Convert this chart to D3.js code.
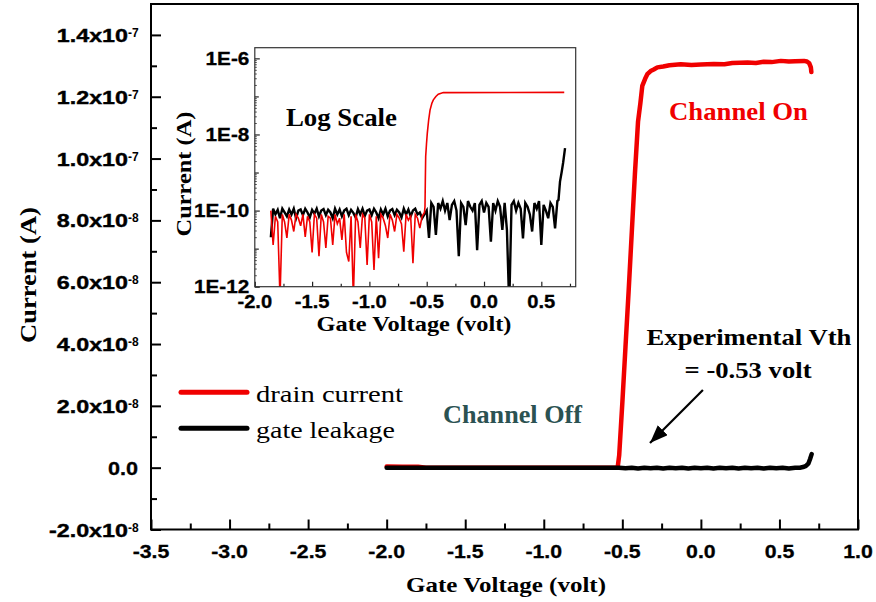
<!DOCTYPE html>
<html><head><meta charset="utf-8">
<script src="https://cdn.jsdelivr.net/npm/d3@7"></script>
<style>body{margin:0;background:#fff}</style>
</head><body><svg id="c" width="876" height="602"></svg>
<script>
// ---------------- data ----------------
const mainDrainV = [-2.0,-1.9,-1.8,-1.75,-1.6,-0.53,-0.52,-0.50,-0.48,-0.46,-0.44,-0.42,-0.40,-0.385,-0.373,-0.355,-0.341,-0.32,-0.30,-0.277,-0.24,-0.20,-0.128,-0.06,0.0,0.082,0.15,0.2,0.297,0.35,0.4,0.45,0.509,0.56,0.6,0.656,0.675,0.69,0.70,0.703];
const mainDrainI = [4e-10,3e-10,3e-10,0,0,0,4e-9,2.1e-8,3.9e-8,5.7e-8,7.6e-8,9.5e-8,1.12e-7,1.18e-7,1.235e-7,1.258e-7,1.273e-7,1.283e-7,1.288e-7,1.295e-7,1.298e-7,1.302e-7,1.305e-7,1.303e-7,1.304e-7,1.306e-7,1.305e-7,1.309e-7,1.311e-7,1.309e-7,1.313e-7,1.312e-7,1.316e-7,1.314e-7,1.315e-7,1.316e-7,1.314e-7,1.308e-7,1.295e-7,1.28e-7];
const mainGateV = [-2.0,-0.52,-0.48,-0.44,-0.40,-0.36,-0.32,-0.28,-0.24,-0.20,-0.16,-0.12,-0.08,-0.04,0.00,0.04,0.08,0.12,0.16,0.20,0.24,0.28,0.32,0.36,0.40,0.44,0.48,0.52,0.56,0.60,0.63,0.65,0.67,0.685,0.695,0.705];
const mainGateI = [0,0,-2e-10,0,-2.5e-10,0,-2e-10,0,-2.5e-10,0,-2e-10,0,-2.5e-10,0,-2e-10,0,-2.5e-10,0,-2e-10,0,-2.5e-10,0,-2e-10,0,-2.5e-10,0,-2e-10,0,-2.5e-10,0,0,2e-10,6e-10,1.4e-9,2.8e-9,4.4e-9];

const xTickValues = [-3.5,-3.0,-2.5,-2.0,-1.5,-1.0,-0.5,0.0,0.5,1.0];
const xTickLabels = ["-3.5","-3.0","-2.5","-2.0","-1.5","-1.0","-0.5","0.0","0.5","1.0"];
const xMinorTicks = [-3.25,-2.75,-2.25,-1.75,-1.25,-0.75,-0.25,0.25,0.75];
const yTickValues = [-2e-8,0,2e-8,4e-8,6e-8,8e-8,1e-7,1.2e-7,1.4e-7];
const yTickMantissa = ["-2.0x10","0.0","2.0x10","4.0x10","6.0x10","8.0x10","1.0x10","1.2x10","1.4x10"];
const yTickExponent = ["-8","","-8","-8","-8","-8","-7","-7","-7"];
const yMinorTicks = [-1e-8,1e-8,3e-8,5e-8,7e-8,9e-8,1.1e-7,1.3e-7];

// inset (log scale), noise sampled on a 0.02 V grid starting at -1.86 V
const insetGridStart = -1.86, insetGridStep = 0.02;
const insetDrainNoiseLog = [-10.00,-10.90,-10.15,-10.30,-12.30,-10.10,-10.30,-10.72,-10.10,-10.25,
 -10.55,-10.10,-10.20,-10.40,-10.10,-10.69,-10.15,-10.30,-11.10,-10.10,
 -10.20,-11.20,-10.10,-10.30,-10.98,-10.15,-10.20,-10.90,-10.10,-10.35,
 -10.20,-10.77,-10.10,-11.10,-11.34,-10.15,-12.30,-10.10,-10.30,-10.98,
 -10.10,-10.20,-11.43,-10.10,-10.30,-11.56,-10.15,-11.25,-10.10,-10.20,
 -10.40,-10.72,-10.10,-10.25,-10.55,-10.10,-10.20,-10.35,-11.08,-10.10,
 -10.25,-10.15,-11.38,-10.10,-10.20,-10.46,-10.15,-10.05];
const insetDrainTailV = [-0.515,-0.512,-0.509,-0.502,-0.495,-0.483,-0.471,-0.455,-0.442,-0.42,-0.399,-0.355,0.70];
const insetDrainTailLog = [-9.9,-9.2,-8.58,-8.25,-7.97,-7.62,-7.36,-7.18,-7.09,-7.0,-6.94,-6.90,-6.895];
const insetGateNoiseLog = [-10.70,-9.95,-10.10,-9.98,-10.20,-9.95,-10.05,-10.15,-9.97,-10.10,
 -9.95,-10.20,-10.00,-9.97,-10.12,-9.95,-10.05,-10.18,-9.98,-10.08,
 -9.95,-10.15,-10.00,-9.96,-10.12,-9.98,-10.05,-10.20,-9.95,-10.10,
 -9.97,-10.15,-10.00,-9.95,-10.12,-9.98,-10.06,-10.18,-9.96,-10.10,
 -9.95,-10.14,-10.00,-9.97,-10.12,-9.95,-10.05,-10.20,-9.97,-10.10,
 -9.95,-10.15,-10.00,-9.96,-10.12,-9.98,-10.05,-10.18,-9.95,-10.10,
 -9.97,-10.15,-10.00,-9.95,-10.10,-10.05,-10.20,
 -10.10,-10.00,-10.72,-9.80,-9.90,-10.64,-9.80,-9.95,-9.75,-10.00,
 -9.80,-10.25,-9.85,-9.75,-10.00,-11.20,-9.80,-9.90,-10.38,-9.75,
 -9.90,-10.00,-9.80,-11.04,-9.85,-9.75,-10.05,-9.80,-9.90,-10.82,
 -9.80,-10.00,-9.75,-9.90,-10.51,-9.80,-10.51,-12.50,-9.85,-9.75,
 -10.00,-9.80,-9.95,-10.73,-9.80,-9.90,-10.10,-10.55,-9.80,-9.95,
 -9.75,-10.90,-9.85,-10.00,-10.20,-9.80,-9.90,-10.47,-9.75];
const insetGateTailV = [0.65,0.663,0.678,0.69,0.707];
const insetGateTailLog = [-9.72,-9.24,-8.98,-8.75,-8.36];

const insetXTickValues = [-2.0,-1.5,-1.0,-0.5,0.0,0.5];
const insetXTickLabels = ["-2.0","-1.5","-1.0","-0.5","0.0","0.5"];
const insetXMinor = [-1.75,-1.25,-0.75,-0.25,0.25,0.75];
const insetYTickValues = [1e-12,1e-10,1e-8,1e-6];
const insetYTickLabels = ["1E-12","1E-10","1E-8","1E-6"];
const insetYDecades = [1e-11,1e-9,1e-7];

const seriesNames = ["drain current","gate leakage"];
const seriesColors = ["#f00000","#000000"];

// ---------------- drawing ----------------
const SANS = "'Liberation Sans', Arial, sans-serif";
const SERIF = "'Liberation Serif', 'Times New Roman', serif";
const svg = d3.select("#c");
svg.append("rect").attr("width",876).attr("height",602).attr("fill","#fff");

function label(parent, str, px, py, o) {
  const g = parent.append("g");
  const t = g.append("text").text(str)
    .attr("font-family", o.serif ? SERIF : SANS)
    .attr("font-weight", o.weight || "bold")
    .attr("font-size", o.size)
    .attr("text-anchor", o.anchor || "start")
    .attr("fill", o.fill || "#000");
  if (o.stroke) t.attr("stroke", o.fill || "#000").attr("stroke-width", o.stroke);
  let k = o.k || 1;
  if (o.width) k = o.width / t.node().getComputedTextLength();
  g.attr("transform", `translate(${px},${py}) rotate(${o.rot||0}) scale(${k},1)`);
  return g;
}

const x = d3.scaleLinear().domain([-3.5, 1.0]).range([151, 858]);
const y = d3.scaleLinear().domain([-2e-8, 1.5e-7]).range([529.5, 4]);

// main axes ticks (inward)
function tickAxis(axis, vals, size, tr) {
  const g = svg.append("g").attr("transform", tr)
    .call(axis.tickValues(vals).tickSize(-size).tickSizeOuter(0).tickFormat(""));
  g.select(".domain").remove();
  g.selectAll("line").attr("stroke","#000").attr("stroke-width",2);
  return g;
}
tickAxis(d3.axisBottom(x), xTickValues, 10, `translate(0,${y.range()[0]})`);
tickAxis(d3.axisBottom(x), xMinorTicks, 6, `translate(0,${y.range()[0]})`);
tickAxis(d3.axisLeft(y), yTickValues, 10, `translate(${x.range()[0]},0)`);
tickAxis(d3.axisLeft(y), yMinorTicks, 6, `translate(${x.range()[0]},0)`);

// frame
svg.append("rect")
  .attr("x", x.range()[0]).attr("y", y.range()[1])
  .attr("width", x.range()[1]-x.range()[0]).attr("height", y.range()[0]-y.range()[1])
  .attr("fill","none").attr("stroke","#000").attr("stroke-width",2);

// tick labels
xTickValues.forEach((v,i) => label(svg, xTickLabels[i], x(v), 558, {size:18.5, anchor:"middle", k:1.15, stroke:0.3}));
yTickValues.forEach((v,i) => {
  const yy = y(v);
  if (yTickExponent[i]) {
    label(svg, yTickMantissa[i], x.range()[0]-23, yy+7, {size:18.5, anchor:"end", k:1.26, stroke:0.4});
    label(svg, yTickExponent[i], x.range()[0]-23, yy+2, {size:12, anchor:"start", k:1.0});
  } else {
    label(svg, yTickMantissa[i], x.range()[0]-13, yy+7, {size:18.5, anchor:"end", k:1.17, stroke:0.3});
  }
});

// axis titles
label(svg, "Gate Voltage (volt)", 506, 592, {size:22, serif:true, anchor:"middle", width:200});
label(svg, "Current (A)", 36, 275, {size:23, serif:true, anchor:"middle", width:136, rot:-90});

// main lines
const lineMain = d3.line().x(d => x(d[0])).y(d => y(d[1])).curve(d3.curveLinear);
const drainMain = mainDrainV.map((v,i) => [v, mainDrainI[i]]);
const gateMain = mainGateV.map((v,i) => [v, mainGateI[i]]);
svg.append("path").attr("d", lineMain(drainMain)).attr("fill","none")
  .attr("stroke", seriesColors[0]).attr("stroke-width",4.5)
  .attr("stroke-linejoin","round").attr("stroke-linecap","round");
svg.append("path").attr("d", lineMain(gateMain)).attr("fill","none")
  .attr("stroke", seriesColors[1]).attr("stroke-width",4.5)
  .attr("stroke-linejoin","round").attr("stroke-linecap","round");

// ---------------- inset ----------------
const ix = d3.scaleLinear().domain([-2.0, 0.8]).range([254.8, 575.7]);
const iy = d3.scaleLog().domain([1e-12, Math.pow(10,-5.72)]).range([286.7, 47.7]);
const inset = svg.append("g");
inset.append("rect").attr("x", ix.range()[0]).attr("y", iy.range()[1])
  .attr("width", ix.range()[1]-ix.range()[0]).attr("height", iy.range()[0]-iy.range()[1])
  .attr("fill","#fff");
svg.append("clipPath").attr("id","insetClip").append("rect")
  .attr("x", ix.range()[0]).attr("y", iy.range()[1])
  .attr("width", ix.range()[1]-ix.range()[0]).attr("height", iy.range()[0]-iy.range()[1]);

const gateInset = insetGateNoiseLog.map((l,i) => [insetGridStart + i*insetGridStep, Math.pow(10,l)])
  .concat(insetGateTailV.map((v,i) => [v, Math.pow(10, insetGateTailLog[i])]));
const drainInset = insetDrainNoiseLog.map((l,i) => [insetGridStart + i*insetGridStep, Math.pow(10,l)])
  .concat(insetDrainTailV.map((v,i) => [v, Math.pow(10, insetDrainTailLog[i])]));
const lineInset = d3.line().x(d => ix(d[0])).y(d => iy(d[1]));
const plotI = inset.append("g").attr("clip-path","url(#insetClip)");
plotI.append("path").attr("d", lineInset(gateInset)).attr("fill","none")
  .attr("stroke", seriesColors[1]).attr("stroke-width",2.4).attr("stroke-linejoin","miter");
plotI.append("path").attr("d", lineInset(drainInset)).attr("fill","none")
  .attr("stroke", seriesColors[0]).attr("stroke-width",1.6);

// inset ticks
function insetTicks(axis, vals, size, tr, w) {
  const g = inset.append("g").attr("transform", tr)
    .call(axis.tickValues(vals).tickSize(-size).tickSizeOuter(0).tickFormat(""));
  g.select(".domain").remove();
  g.selectAll("line").attr("stroke","#222").attr("stroke-width",w);
}
const subTicks = [];
[-12,-11,-10,-9,-8,-7,-6].forEach(d => [2,3,4,5,6,7,8,9].forEach(m => { const v = m*Math.pow(10,d); if (v < iy.domain()[1]) subTicks.push(v); }));
insetTicks(d3.axisBottom(ix), insetXTickValues, 5, `translate(0,${iy.range()[0]})`, 1.2);
insetTicks(d3.axisBottom(ix), insetXMinor.filter(v => v < 0.8), 3, `translate(0,${iy.range()[0]})`, 1.2);
insetTicks(d3.axisLeft(iy), insetYTickValues, 5, `translate(${ix.range()[0]},0)`, 1.2);
insetTicks(d3.axisLeft(iy), insetYDecades, 4, `translate(${ix.range()[0]},0)`, 1.2);
insetTicks(d3.axisLeft(iy), subTicks, 2, `translate(${ix.range()[0]},0)`, 0.8);

inset.append("rect").attr("x", ix.range()[0]).attr("y", iy.range()[1])
  .attr("width", ix.range()[1]-ix.range()[0]).attr("height", iy.range()[0]-iy.range()[1])
  .attr("fill","none").attr("stroke","#333").attr("stroke-width",1.2);

insetXTickValues.forEach((v,i) => label(inset, insetXTickLabels[i], ix(v), 308, {size:17.5, anchor:"middle", k:1.15, stroke:0.3}));
insetYTickValues.forEach((v,i) => label(inset, insetYTickLabels[i], ix.range()[0]-5.5, iy(v)+6.7, {size:18.5, anchor:"end", k:1.12, stroke:0.3}));
label(inset, "Gate Voltage (volt)", 414, 331, {size:22, serif:true, anchor:"middle", width:195});
label(inset, "Current (A)", 191, 174, {size:22, serif:true, anchor:"middle", width:125, rot:-90});
label(inset, "Log Scale", ix(-1.728), iy(1.67e-8), {size:26, serif:true, width:111});

// ---------------- legend ----------------
const legendY = [392.3, 428.3];
seriesNames.forEach((n,i) => {
  svg.append("line").attr("x1",181).attr("x2",247).attr("y1",legendY[i]).attr("y2",legendY[i])
    .attr("stroke", seriesColors[i]).attr("stroke-width",5).attr("stroke-linecap","round");
  label(svg, n, 256, legendY[i]+9.5, {size:24, serif:true, weight:"normal", width: i===0 ? 147 : 139});
});

// ---------------- annotations ----------------
label(svg, "Channel On", x(-0.203), y(1.1247e-7), {size:26, serif:true, fill:"#f00000", width:139});
label(svg, "Channel Off", x(-1.641), y(1.436e-8), {size:26, serif:true, fill:"#2b5252", width:139});
label(svg, "Experimental Vth", x(0.306), y(3.97e-8), {size:24, serif:true, anchor:"middle", width:205});
label(svg, "= -0.53 volt", x(0.30), y(2.90e-8), {size:24, serif:true, anchor:"middle", width:127});

const defs = svg.append("defs");
defs.append("marker").attr("id","ah").attr("markerUnits","userSpaceOnUse")
  .attr("markerWidth",20).attr("markerHeight",16).attr("refX",18).attr("refY",7)
  .attr("orient","auto")
  .append("path").attr("d","M0,0 L18,7 L0,14 Z").attr("fill","#000");
svg.append("line")
  .attr("x1", x(0.013)).attr("y1", y(2.51e-8))
  .attr("x2", x(-0.324)).attr("y2", y(7.98e-9))
  .attr("stroke","#000").attr("stroke-width",2.2).attr("marker-end","url(#ah)");
</script>
</body></html>
